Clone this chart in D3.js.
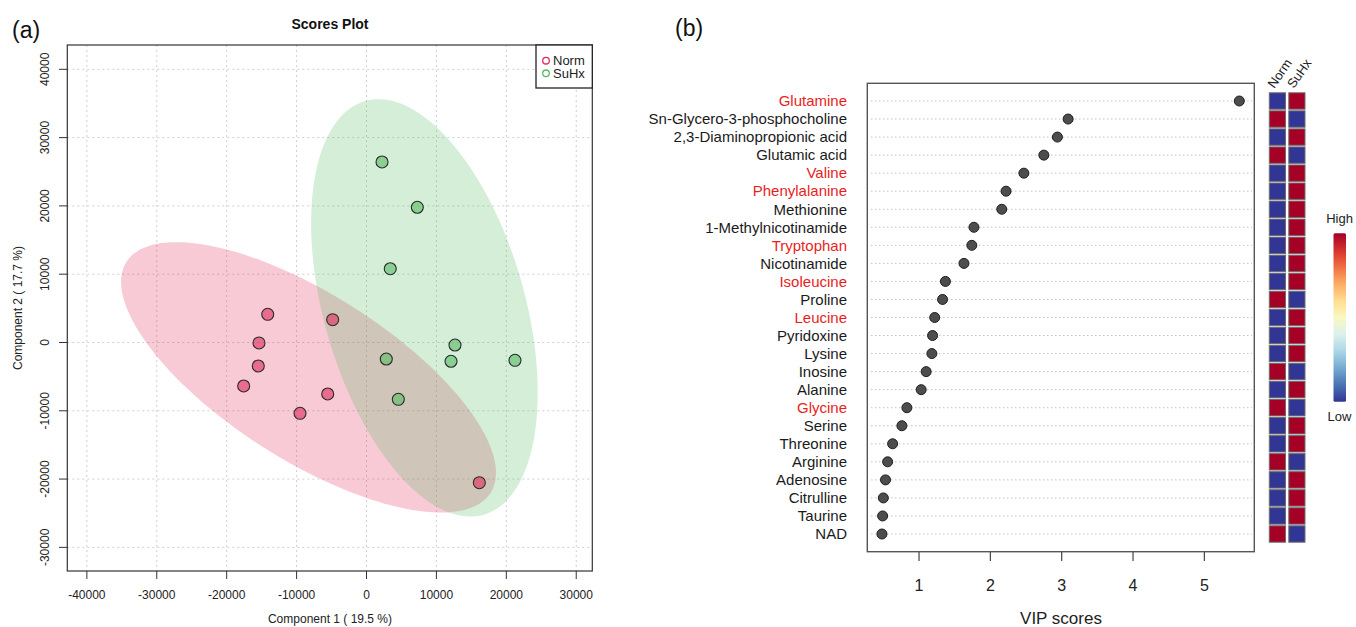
<!DOCTYPE html>
<html lang="en">
<head>
<meta charset="UTF-8">
<title>Scores Plot and VIP scores</title>
<script src="https://cdn.jsdelivr.net/npm/d3@7"></script>
<style>
  body { margin: 0; background: #fff; }
  text { font-family: "Liberation Sans", Arial, sans-serif; }
</style>
</head>
<body>
<div id="chart"></div>
<script>
// ---- panel (a): PLS-DA scores ----
const normX = [-14130, -4840, -15380, -15480, -17570, -5550, -9510, 16140];
const normY = [4130, 3340, -70, -3440, -6370, -7540, -10370, -20530];
const suhxX = [2220, 7270, 3400, 12660, 2830, 12090, 21240, 4550];
const suhxY = [26430, 19800, 10800, -370, -2420, -2750, -2610, -8320];
const groupNames = ["Norm", "SuHx"];
const xTicks = [-40000, -30000, -20000, -10000, 0, 10000, 20000, 30000];
const yTicks = [-30000, -20000, -10000, 0, 10000, 20000, 30000, 40000];

// ---- panel (b): VIP scores ----
const metabolites = ["Glutamine", "Sn-Glycero-3-phosphocholine", "2,3-Diaminopropionic acid",
  "Glutamic acid", "Valine", "Phenylalanine", "Methionine", "1-Methylnicotinamide",
  "Tryptophan", "Nicotinamide", "Isoleucine", "Proline", "Leucine", "Pyridoxine",
  "Lysine", "Inosine", "Alanine", "Glycine", "Serine", "Threonine", "Arginine",
  "Adenosine", "Citrulline", "Taurine", "NAD"];
const vip = [5.49, 3.09, 2.94, 2.75, 2.47, 2.22, 2.16, 1.77, 1.74, 1.63, 1.37, 1.33,
  1.22, 1.19, 1.18, 1.10, 1.03, 0.83, 0.76, 0.63, 0.56, 0.53, 0.50, 0.49, 0.48];
const highlighted = ["Glutamine", "Valine", "Phenylalanine", "Tryptophan", "Isoleucine", "Leucine", "Glycine"];
// 1 = high, 0 = low
const normLevel = [0,1,0,1,0,0,0,0,0,0,0,1,0,0,0,1,0,1,0,0,1,0,0,0,1];
const suhxLevel = [1,0,1,0,1,1,1,1,1,1,1,0,1,1,1,0,1,0,1,1,0,1,1,1,0];
const vipTicks = [1, 2, 3, 4, 5];

const W = 1356, H = 627;
const svg = d3.select("#chart").append("svg")
  .attr("width", W).attr("height", H)
  .style("display", "block");
svg.append("rect").attr("width", W).attr("height", H).attr("fill", "#fff");

// ================= panel (a) =================
const xS = d3.scaleLinear().domain([-42800, 32300]).range([67.3, 592.3]);
const yS = d3.scaleLinear().domain([-33460, 43560]).range([571, 45]);
const colA = { Norm: "#df2b5b", SuHx: "#57bb63" };

const a = svg.append("g");

// grid
a.selectAll(".gx").data(xTicks).join("line")
  .attr("x1", d => xS(d)).attr("x2", d => xS(d))
  .attr("y1", yS.range()[1]).attr("y2", yS.range()[0])
  .attr("stroke", "#cfcfcf").attr("stroke-dasharray", "2,3");
a.selectAll(".gy").data(yTicks).join("line")
  .attr("y1", d => yS(d)).attr("y2", d => yS(d))
  .attr("x1", xS.range()[0]).attr("x2", xS.range()[1])
  .attr("stroke", "#cfcfcf").attr("stroke-dasharray", "2,3");

// 95% confidence ellipse from the group scores
function ellipse(xs, ys) {
  const n = xs.length, mx = d3.mean(xs), my = d3.mean(ys);
  let sxx = 0, syy = 0, sxy = 0;
  for (let i = 0; i < n; i++) {
    sxx += (xs[i] - mx) ** 2; syy += (ys[i] - my) ** 2; sxy += (xs[i] - mx) * (ys[i] - my);
  }
  sxx /= n - 1; syy /= n - 1; sxy /= n - 1;
  const tr = sxx + syy, det = sxx * syy - sxy * sxy;
  const disc = Math.sqrt(tr * tr / 4 - det);
  const l1 = tr / 2 + disc, l2 = tr / 2 - disc;
  const th = 0.5 * Math.atan2(2 * sxy, sxx - syy);
  const t = Math.sqrt(5.991464547);
  const pts = d3.range(0, 361, 2).map(deg => {
    const r = deg * Math.PI / 180;
    const ex = t * Math.sqrt(l1) * Math.cos(r), ey = t * Math.sqrt(l2) * Math.sin(r);
    return [mx + ex * Math.cos(th) - ey * Math.sin(th), my + ex * Math.sin(th) + ey * Math.cos(th)];
  });
  return d3.line().x(d => xS(d[0])).y(d => yS(d[1]))(pts) + "Z";
}
a.append("path").attr("d", ellipse(normX, normY)).attr("fill", colA.Norm).attr("fill-opacity", 0.25);
a.append("path").attr("d", ellipse(suhxX, suhxY)).attr("fill", colA.SuHx).attr("fill-opacity", 0.25);

// points
const pts = [
  ...normX.map((x, i) => ({ x, y: normY[i], g: "Norm" })),
  ...suhxX.map((x, i) => ({ x, y: suhxY[i], g: "SuHx" }))
];
a.selectAll(".pt").data(pts).join("circle")
  .attr("cx", d => xS(d.x)).attr("cy", d => yS(d.y)).attr("r", 6)
  .attr("fill", d => colA[d.g]).attr("fill-opacity", 0.6)
  .attr("stroke", "#2b2b2b").attr("stroke-width", 1.1);

// frame
a.append("rect").attr("x", 67.3).attr("y", 45).attr("width", 525).attr("height", 526)
  .attr("fill", "none").attr("stroke", "#333").attr("stroke-width", 1.2);

// x axis
a.selectAll(".tx").data(xTicks).join("line")
  .attr("x1", d => xS(d)).attr("x2", d => xS(d)).attr("y1", 571).attr("y2", 579)
  .attr("stroke", "#333");
a.selectAll(".lx").data(xTicks).join("text")
  .attr("x", d => xS(d)).attr("y", 599).attr("text-anchor", "middle")
  .attr("font-size", 12).attr("fill", "#222").text(d => String(d));
a.append("text").attr("x", 330).attr("y", 623).attr("text-anchor", "middle")
  .attr("font-size", 12).attr("fill", "#222").text("Component 1 ( 19.5 %)");

// y axis
a.selectAll(".ty").data(yTicks).join("line")
  .attr("y1", d => yS(d)).attr("y2", d => yS(d)).attr("x1", 59).attr("x2", 67.3)
  .attr("stroke", "#333");
a.selectAll(".ly").data(yTicks).join("text")
  .attr("transform", d => `translate(45,${yS(d)}) rotate(-90)`)
  .attr("dy", "0.35em").attr("text-anchor", "middle")
  .attr("font-size", 12).attr("fill", "#222").text(d => String(d));
a.append("text").attr("transform", "translate(18,308) rotate(-90)")
  .attr("dy", "0.35em").attr("text-anchor", "middle")
  .attr("font-size", 12).attr("fill", "#222").text("Component 2 ( 17.7 %)");

// title
a.append("text").attr("x", 330).attr("y", 29).attr("text-anchor", "middle")
  .attr("font-size", 14).attr("font-weight", "bold").attr("fill", "#111").text("Scores Plot");

// legend
const lg = a.append("g");
lg.append("rect").attr("x", 536).attr("y", 45).attr("width", 56.3).attr("height", 43)
  .attr("fill", "#fff").attr("stroke", "#222").attr("stroke-width", 1.3);
groupNames.forEach((g, i) => {
  lg.append("circle").attr("cx", 546).attr("cy", 60.7 + i * 12.6).attr("r", 3.3)
    .attr("fill", "none").attr("stroke", colA[g]).attr("stroke-width", 1.3);
  lg.append("text").attr("x", 553).attr("y", 60.7 + i * 12.6).attr("dy", "0.35em")
    .attr("font-size", 13).attr("fill", "#222").text(g);
});

// panel letters
svg.append("text").attr("x", 12).attr("y", 38).attr("font-size", 23).attr("fill", "#111").text("(a)");
svg.append("text").attr("x", 675).attr("y", 36).attr("font-size", 23).attr("fill", "#111").text("(b)");

// ================= panel (b) =================
const vS = d3.scaleLinear().domain([0.275, 5.70]).range([867.3, 1254.3]);
const rowS = d3.scalePoint().domain(metabolites).range([101, 534]);
const colS = d3.scaleBand().domain(groupNames).range([1269.3, 1305]).paddingInner(0.17);
const heatCol = v => v ? "#a50026" : "#313695";

const b = svg.append("g");

// dotted row guides
b.selectAll(".rg").data(metabolites).join("line")
  .attr("x1", 871).attr("x2", 1252)
  .attr("y1", d => rowS(d)).attr("y2", d => rowS(d))
  .attr("stroke", "#c4c4c4").attr("stroke-dasharray", "1.5,2.5");

// frame
b.append("rect").attr("x", 867.3).attr("y", 83.3).attr("width", 387).attr("height", 468.4)
  .attr("fill", "none").attr("stroke", "#555").attr("stroke-width", 1.4);

// dots
b.selectAll(".dot").data(metabolites).join("circle")
  .attr("cx", (d, i) => vS(vip[i])).attr("cy", d => rowS(d)).attr("r", 5)
  .attr("fill", "#4d4d4d").attr("stroke", "#1e1e1e").attr("stroke-width", 1);

// row labels
b.selectAll(".rl").data(metabolites).join("text")
  .attr("x", 847).attr("y", d => rowS(d)).attr("dy", "0.35em").attr("text-anchor", "end")
  .attr("font-size", 15)
  .attr("fill", d => highlighted.includes(d) ? "#ea1d1d" : "#1a1a1a").text(d => d);

// x axis
b.selectAll(".vt").data(vipTicks).join("line")
  .attr("x1", d => vS(d)).attr("x2", d => vS(d)).attr("y1", 551.7).attr("y2", 561)
  .attr("stroke", "#444").attr("stroke-width", 1.2);
b.selectAll(".vl").data(vipTicks).join("text")
  .attr("x", d => vS(d)).attr("y", 585).attr("dy", "0.35em").attr("text-anchor", "middle")
  .attr("font-size", 16).attr("fill", "#222").text(d => d);
b.append("text").attr("x", 1061).attr("y", 618).attr("dy", "0.35em").attr("text-anchor", "middle")
  .attr("font-size", 17).attr("fill", "#222").text("VIP scores");

// heatmap
const cells = [];
metabolites.forEach((m, i) => {
  cells.push({ m, g: "Norm", v: normLevel[i] });
  cells.push({ m, g: "SuHx", v: suhxLevel[i] });
});
b.selectAll(".cell").data(cells).join("rect")
  .attr("x", d => colS(d.g)).attr("width", colS.bandwidth())
  .attr("y", d => rowS(d.m) - 8.2).attr("height", 16.4)
  .attr("fill", d => heatCol(d.v)).attr("stroke", "#6e6e6e").attr("stroke-width", 1);

groupNames.forEach(g => {
  b.append("text")
    .attr("transform", `translate(${colS(g) + 5},${89}) rotate(-55)`)
    .attr("font-size", 13).attr("fill", "#222").text(g);
});

// colour key
const defs = svg.append("defs");
const grad = defs.append("linearGradient").attr("id", "key")
  .attr("x1", 0).attr("x2", 0).attr("y1", 0).attr("y2", 1);
d3.range(0, 1.0001, 0.1).forEach(t => {
  grad.append("stop").attr("offset", t).attr("stop-color", d3.interpolateRdYlBu(t));
});
b.append("rect").attr("x", 1333.5).attr("y", 233.3).attr("width", 12.5).attr("height", 168.4)
  .attr("rx", 1.5).attr("fill", "url(#key)");
b.append("text").attr("x", 1339.5).attr("y", 218.3).attr("dy", "0.35em").attr("text-anchor", "middle")
  .attr("font-size", 13).attr("fill", "#222").text("High");
b.append("text").attr("x", 1339.5).attr("y", 416.7).attr("dy", "0.35em").attr("text-anchor", "middle")
  .attr("font-size", 13).attr("fill", "#222").text("Low");
</script>
</body>
</html>
